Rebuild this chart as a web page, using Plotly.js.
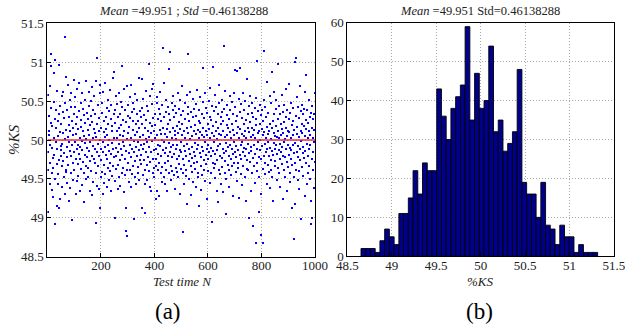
<!DOCTYPE html>
<html><head><meta charset="utf-8">
<script src="https://cdn.plot.ly/plotly-3.0.1.min.js"></script>
<style>html,body{margin:0;padding:0;background:#fff}#chart{width:625px;height:328px}
#chart .scatterlayer .point{shape-rendering:crispEdges}</style>
</head><body><div id="chart"></div>
<script>
// ---- data ----
const ksValues = [
50.58,49.08,49.62,49.85,50.12,50.31,50.07,49.44,50.69,49.93,49.71,51.10,50.95,50.22,50.41,49.36,49.58,49.90,50.18,49.27,49.77,49.64,50.49,50.02,50.86,49.81,49.50,50.27,51.03,48.92,49.97,50.38,50.15,50.63,49.69,49.15,49.88,49.43,50.05,50.24,49.56,50.97,49.74,49.13,50.33,50.44,50.10,49.24,49.92,49.79,
50.21,49.87,49.66,49.40,50.56,49.95,50.09,50.36,50.62,49.73,49.52,49.83,50.28,49.31,50.01,51.32,50.47,49.62,49.59,50.81,50.13,49.91,49.45,49.78,50.39,50.71,50.04,49.68,49.22,50.19,49.97,50.30,50.52,50.11,49.86,49.38,49.57,50.60,49.80,50.43,50.25,49.93,48.97,50.06,49.70,49.49,50.16,50.77,50.34,49.84,
49.61,50.42,49.98,50.55,49.30,49.75,50.20,50.08,49.89,49.47,50.66,50.29,50.14,49.94,49.69,49.54,50.37,49.82,50.73,50.03,49.35,49.76,49.91,50.48,50.17,50.26,49.63,49.99,50.61,49.42,49.87,50.11,50.40,49.72,49.58,49.20,50.32,50.05,50.52,49.96,49.81,50.22,49.67,49.50,50.76,50.01,49.90,50.35,49.78,50.13,
50.27,49.64,49.53,50.44,49.86,50.07,50.62,50.19,49.34,49.73,49.97,50.50,50.31,49.60,49.80,50.23,49.29,50.68,50.02,49.92,49.46,50.39,49.76,50.14,50.57,49.88,49.70,50.09,50.33,48.93,49.57,50.76,50.04,49.84,51.05,49.41,50.20,49.95,50.45,49.66,49.79,50.28,50.12,49.37,50.60,49.12,50.00,50.71,49.52,49.89,
50.16,49.74,49.59,50.35,50.48,49.97,49.30,49.84,50.62,50.10,50.25,49.68,49.45,50.04,50.73,49.91,49.56,50.30,49.81,50.14,50.41,49.39,49.76,50.07,49.64,50.52,50.20,49.93,49.49,49.86,50.37,50.00,49.71,50.64,49.60,50.27,49.82,49.35,50.45,50.12,49.96,49.54,50.18,50.80,49.89,49.66,50.33,50.88,49.78,50.03,
49.47,49.00,50.39,50.22,49.90,50.56,49.63,49.79,50.11,50.46,50.03,49.37,49.85,50.29,49.68,49.95,50.60,50.15,49.52,49.74,50.34,50.07,49.41,50.49,49.88,50.19,50.95,49.58,49.81,50.42,49.97,49.64,50.26,50.05,49.33,49.92,50.66,50.12,49.76,49.55,50.38,49.13,48.83,50.23,49.86,50.70,48.76,50.01,49.61,50.31,
50.09,49.70,50.45,50.17,49.83,49.46,49.94,50.55,50.28,49.62,50.02,49.78,50.71,49.39,50.36,49.89,49.56,50.13,50.48,50.24,49.67,49.99,49.84,48.98,50.40,50.06,49.52,49.73,50.59,50.20,49.91,49.44,50.33,49.80,50.10,50.51,49.65,49.97,50.25,49.58,49.87,50.80,50.15,49.48,49.74,50.37,50.04,49.69,49.93,50.30,
49.81,50.78,49.12,50.21,50.41,49.88,49.55,50.07,50.53,49.74,49.95,50.32,49.62,50.15,49.43,49.06,50.63,50.01,49.85,50.26,49.68,50.44,49.97,49.49,50.12,50.37,49.78,49.60,50.98,50.04,49.91,50.22,49.40,49.72,50.57,50.09,49.84,49.35,50.46,49.99,50.65,50.18,49.57,49.76,50.28,50.72,49.64,49.87,50.11,49.52,
50.34,50.02,50.19,49.66,49.24,49.89,49.75,50.48,49.35,50.06,50.55,49.94,49.61,50.27,49.82,49.70,49.28,50.40,50.13,50.62,50.34,49.92,50.08,49.57,49.79,50.24,49.46,49.65,50.00,50.45,51.18,49.87,50.16,50.73,49.53,49.98,50.30,49.71,49.43,49.83,50.08,50.51,50.36,49.62,49.90,50.14,49.34,50.04,50.42,49.80,
49.73,50.20,50.33,49.96,50.91,49.58,49.85,50.10,51.13,50.26,49.67,49.91,49.49,49.78,50.47,50.03,49.60,50.38,50.15,50.56,49.93,49.55,49.82,50.29,49.37,50.07,50.12,50.44,50.01,49.88,49.64,50.35,49.76,49.59,49.94,50.18,50.61,49.52,50.09,50.23,49.80,50.40,49.69,49.30,49.87,50.52,50.14,49.97,49.63,50.32,
49.84,50.06,50.70,50.21,50.37,49.57,49.75,48.82,49.92,49.44,50.12,49.68,50.48,50.27,49.86,50.03,49.54,49.79,49.61,50.58,50.15,49.95,49.18,50.33,50.09,50.43,51.11,49.73,49.88,49.50,50.24,49.82,50.01,50.62,50.36,50.17,49.66,49.29,49.91,49.59,49.77,50.05,49.46,50.30,50.53,50.11,49.85,49.70,50.40,49.96,
49.63,50.19,49.80,49.40,50.46,50.08,50.31,50.64,49.89,49.72,50.13,49.52,49.94,49.58,50.25,50.02,49.15,50.39,49.83,50.10,50.55,50.22,49.67,49.78,49.36,49.91,50.06,50.34,49.55,50.93,50.16,49.86,50.49,49.74,49.62,50.04,50.28,49.97,50.60,49.47,49.81,49.69,50.12,50.41,49.24,49.88,50.07,50.35,50.20,49.76,
49.93,49.60,50.50,50.14,49.84,50.30,50.67,50.03,49.45,49.79,49.57,49.90,50.26,50.09,48.95,50.44,50.94,49.71,50.18,49.86,49.64,50.37,49.98,50.05,50.58,49.51,49.82,49.69,50.23,50.12,50.42,49.35,49.87,50.01,49.74,50.33,49.20,49.92,50.16,50.71,50.08,49.62,50.47,49.80,49.56,49.95,50.21,50.29,49.43,50.06,
49.77,49.65,50.36,50.52,50.11,49.89,49.33,50.25,49.83,51.21,50.40,50.04,49.58,49.73,50.63,49.96,49.50,49.05,49.86,50.19,50.32,50.07,50.45,49.68,49.91,50.15,49.61,49.80,49.39,50.27,50.56,49.94,50.10,50.38,49.75,49.55,50.02,50.21,50.49,49.88,49.66,49.82,50.13,49.28,50.34,50.60,49.97,49.71,50.06,50.90,
49.85,50.42,50.24,49.59,49.78,49.92,50.09,50.31,49.47,50.89,49.70,50.17,49.87,49.64,50.53,50.03,49.25,49.81,50.36,50.92,50.14,49.93,50.46,49.56,49.76,50.08,50.28,49.98,49.42,50.61,49.84,49.67,50.20,50.05,50.39,49.90,49.53,49.79,50.12,50.50,49.21,49.88,50.26,50.02,49.63,50.78,49.74,50.16,50.33,49.95,
49.61,50.44,50.10,49.83,49.00,50.57,49.72,50.23,50.04,49.91,49.34,49.86,50.35,50.15,50.48,49.57,50.07,49.77,48.90,50.30,50.13,49.94,49.66,49.82,50.41,50.02,49.45,50.54,48.67,50.19,50.27,49.89,49.70,51.02,49.60,50.09,50.37,49.97,49.08,50.11,49.78,49.52,50.45,50.21,50.00,49.87,49.30,50.32,49.75,48.78,
50.14,49.92,50.38,50.06,49.63,48.68,50.24,50.52,49.80,51.15,50.10,49.71,49.95,49.56,50.43,50.03,50.29,49.84,49.44,50.74,49.88,50.17,50.08,49.68,49.97,50.35,49.59,49.79,50.12,50.56,49.38,49.90,50.21,50.01,49.74,49.62,50.47,50.15,49.86,50.87,49.53,50.25,49.22,49.81,50.09,50.34,49.96,50.62,49.67,50.05,
49.89,49.73,50.40,50.18,50.51,49.93,49.48,49.82,50.04,50.98,50.27,50.11,49.64,49.87,49.57,50.44,50.02,50.33,49.76,49.95,49.40,49.84,50.20,50.07,50.58,49.69,50.14,49.91,49.24,49.80,50.36,50.09,50.45,49.61,49.97,50.23,50.01,49.53,49.78,49.88,50.30,50.66,50.16,49.35,49.72,50.05,50.39,49.94,49.65,50.12,
49.81,50.27,50.72,50.10,49.58,49.90,49.46,50.35,50.02,49.75,50.48,49.87,49.13,49.68,50.19,50.06,50.41,49.94,50.24,49.52,49.83,48.73,50.13,49.18,49.71,51.00,49.96,51.05,50.31,49.62,49.85,50.08,50.55,50.17,49.49,49.78,49.92,50.43,50.04,49.60,49.37,50.28,50.70,49.88,49.74,50.12,50.37,49.99,48.98,50.21,
49.65,50.45,50.09,49.83,49.54,49.91,50.33,50.18,49.77,50.40,49.28,50.62,50.05,49.86,50.83,50.26,50.14,49.70,49.95,49.44,50.38,50.02,49.80,49.58,50.22,50.51,49.89,49.67,50.11,50.30,49.93,49.50,50.07,48.92,50.35,49.21,50.16,49.75,49.00,50.44,50.03,49.84,49.62,50.27,50.13,49.97,49.38,50.34,49.72,50.60
];
const targetLevel = 50;
const histCounts = [2,2,2,1,4,7,5,3,11,11,15,22,16,24,22,22,43,36,30,38,41,44,59,35,47,38,40,54,32,35,27,29,32,48,19,16,16,10,19,8,7,3,8,5,5,1,3,1,1,1];
const histMin = 48.654, histMax = 51.316;
const leftTitle = "<i>Mean</i> =49.951 ; <i>Std</i> =0.46138288";
const rightTitle = "<i>Mean</i> =49.951 Std=0.46138288";
const ksTicks = [48.5,49,49.5,50,50.5,51,51.5];
const ksTickText = ["48.5","49","49.5","50","50.5","51","51.5"];
const timeTicks = [200,400,600,800,1000];
const countTicks = [0,10,20,30,40,50,60];

// ---- build ----
const N = ksValues.length;
const idx = ksValues.map((_, i) => i + 1);
const nb = histCounts.length;
const bw = (histMax - histMin) / nb;
const centers = histCounts.map((_, i) => histMin + bw * (i + 0.5));

const W = 625, H = 328;
const px = v => v / W, py = v => 1 - v / H;
const F = "Liberation Serif, Times New Roman, serif";

const axisBase = {
  showline: true, mirror: true, linecolor: '#000', linewidth: 1,
  ticks: 'inside', ticklen: 4, tickcolor: '#000',
  showgrid: true, gridcolor: '#a8a8a8', griddash: '1px,2px', gridwidth: 1,
  zeroline: false, tickfont: {family: F, size: 13, color: '#222'}, fixedrange: true,
  ticklabeloverflow: 'allow'
};

const traces = [
  {type: 'scatter', mode: 'markers', x: idx, y: ksValues, xaxis: 'x', yaxis: 'y',
   marker: {color: '#0000ff', size: 2, symbol: 'square', line: {width: 0}}, hoverinfo: 'skip'},
  {type: 'scatter', mode: 'lines', x: [1, N], y: [targetLevel, targetLevel], xaxis: 'x', yaxis: 'y',
   line: {color: '#ee3030', width: 1.6}, hoverinfo: 'skip'},
  {type: 'bar', x: centers, y: histCounts, width: bw, xaxis: 'x2', yaxis: 'y2',
   marker: {color: '#00008c', line: {color: '#000', width: 0.9}}, hoverinfo: 'skip'}
];

const layout = {
  width: W, height: H, showlegend: false,
  margin: {l: 0, r: 0, t: 0, b: 0},
  paper_bgcolor: '#fff', plot_bgcolor: '#fff',
  xaxis: Object.assign({}, axisBase, {domain: [px(47.4), px(315)], range: [0, 1000.01], tickvals: timeTicks, anchor: 'y', ticklabelstandoff: -3}),
  yaxis: Object.assign({}, axisBase, {domain: [py(256.7), py(23.3)], range: [48.4999, 51.5001], tickvals: ksTicks, ticktext: ksTickText, anchor: 'x'}),
  xaxis2: Object.assign({}, axisBase, {domain: [px(347.3), px(614)], range: [48.4999, 51.5001], tickvals: ksTicks, ticktext: ksTickText, anchor: 'y2', ticklabelstandoff: -3}),
  yaxis2: Object.assign({}, axisBase, {domain: [py(256.3), py(22.7)], range: [0, 60.01], tickvals: countTicks, anchor: 'x2'}),
  annotations: [
    {text: leftTitle, x: px(183), y: py(11), xref: 'paper', yref: 'paper', showarrow: false, xanchor: 'center', yanchor: 'middle', font: {family: F, size: 12.5, color: '#222'}},
    {text: rightTitle, x: px(480), y: py(11), xref: 'paper', yref: 'paper', showarrow: false, xanchor: 'center', yanchor: 'middle', font: {family: F, size: 12.5, color: '#222'}},
    {text: "<i>Test time N</i>", x: px(182), y: py(281), xref: 'paper', yref: 'paper', showarrow: false, xanchor: 'center', yanchor: 'middle', font: {family: F, size: 13, color: '#222'}},
    {text: "<i>%KS</i>", x: px(480), y: py(281), xref: 'paper', yref: 'paper', showarrow: false, xanchor: 'center', yanchor: 'middle', font: {family: F, size: 13, color: '#222'}},
    {text: "<i>%KS</i>", x: px(14), y: py(140), xref: 'paper', yref: 'paper', showarrow: false, textangle: -90, xanchor: 'center', yanchor: 'middle', font: {family: F, size: 15, color: '#222'}},
    {text: "(a)", x: px(168), y: py(311), xref: 'paper', yref: 'paper', showarrow: false, xanchor: 'center', yanchor: 'middle', font: {family: F, size: 23, color: '#000'}},
    {text: "(b)", x: px(479), y: py(311), xref: 'paper', yref: 'paper', showarrow: false, xanchor: 'center', yanchor: 'middle', font: {family: F, size: 23, color: '#000'}}
  ]
};

Plotly.newPlot('chart', traces, layout, {staticPlot: true, displayModeBar: false});
</script>
</body></html>
